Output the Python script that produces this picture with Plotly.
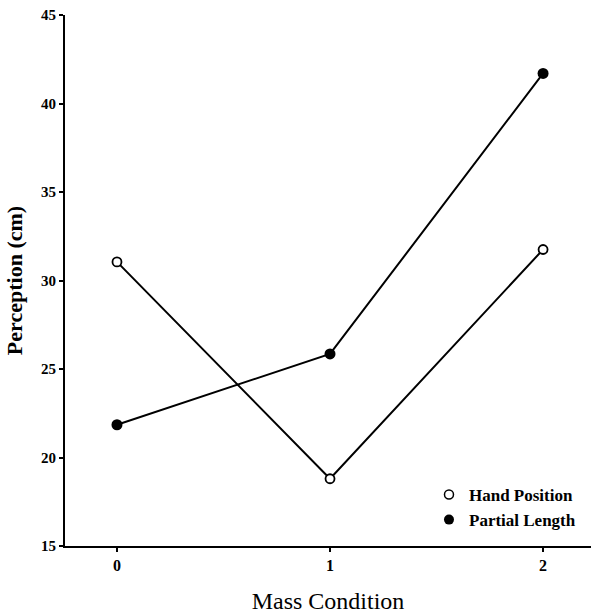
import plotly.graph_objects as go

mass = [0, 1, 2]
hand_position = [31.05, 18.8, 31.75]
partial_length = [21.85, 25.85, 41.7]
y_ticks = [15, 20, 25, 30, 35, 40, 45]

fig = go.Figure()
fig.add_trace(go.Scatter(
    x=mass, y=hand_position, mode="lines+markers", name="Hand Position", showlegend=False,
    line=dict(color="black", width=2),
    marker=dict(symbol="circle", size=9, color="white", line=dict(color="black", width=1.8)),
))
fig.add_trace(go.Scatter(
    x=mass, y=partial_length, mode="lines+markers", name="Partial Length", showlegend=False,
    line=dict(color="black", width=2),
    marker=dict(symbol="circle", size=11, color="black"),
))
# legend entries (markers only)
fig.add_trace(go.Scatter(
    x=[None], y=[None], mode="markers", name="Hand Position",
    marker=dict(symbol="circle", size=9, color="white", line=dict(color="black", width=1.5)),
))
fig.add_trace(go.Scatter(
    x=[None], y=[None], mode="markers", name="Partial Length",
    marker=dict(symbol="circle", size=10, color="black"),
))

fig.update_layout(
    width=591, height=614,
    margin=dict(l=65, r=0, t=15, b=68, autoexpand=False),
    paper_bgcolor="white", plot_bgcolor="white",
    font=dict(family="Liberation Serif", color="black"),
    showlegend=True,
    legend=dict(x=0.692, y=0.13, xanchor="left", yanchor="top",
                bgcolor="rgba(0,0,0,0)", font=dict(size=17, family="Liberation Serif", weight="bold"),
                itemwidth=30, tracegroupgap=0),
    xaxis=dict(
        range=[-0.244, 2.225], tickvals=mass, ticktext=[str(m) for m in mass],
        showgrid=False, zeroline=False, showline=True, linecolor="black", linewidth=2,
        ticks="outside", ticklen=4, tickwidth=1.5, tickcolor="black",
        tickfont=dict(size=16, family="Liberation Serif", weight="bold"),
        title=dict(text="Mass Condition", font=dict(size=24, family="Liberation Serif"), standoff=25),
    ),
    yaxis=dict(
        range=[15, 45], tickvals=y_ticks,
        showgrid=False, zeroline=False, showline=True, linecolor="black", linewidth=2,
        ticks="outside", ticklen=4, tickwidth=1.5, tickcolor="black",
        tickfont=dict(size=15, family="Liberation Serif", weight="bold"),
        title=dict(text="Perception (cm)", font=dict(size=22, family="Liberation Serif", weight="bold"), standoff=12),
    ),
)

fig.write_html("out.html")
